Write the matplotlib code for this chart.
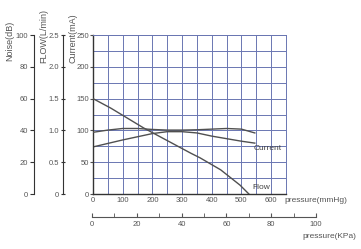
import numpy as np
import matplotlib
matplotlib.use('Agg')
import matplotlib.pyplot as plt

plt.rcParams['font.family'] = ['Liberation Sans', 'DejaVu Sans']

# veriler (okunan degerler)
basinc_akim = [0, 100, 200, 250, 300, 350, 400, 450, 500, 545]
akim = [74, 85, 95, 98, 98, 96, 91, 87, 83, 80]

basinc_gurultu = [0, 50, 100, 150, 200, 250, 300, 350, 400, 450, 500, 545]
gurultu = [38.8, 40.2, 41.2, 41.2, 40.6, 40.2, 40.2, 40.4, 40.8, 41.2, 40.8, 38.4]

basinc_debi = [0, 60, 170, 250, 330, 360, 430, 495, 525]
debi = [1.5, 1.35, 1.04, 0.84, 0.64, 0.57, 0.38, 0.14, 0.0]

akim_ticks = [0, 50, 100, 150, 200, 250]
gurultu_ticks = [0, 20, 40, 60, 80, 100]
debi_ticks = [0, 0.5, 1.0, 1.5, 2.0, 2.5]
mmhg_ticks = [0, 100, 200, 300, 400, 500, 600]
kpa_ticks = [0, 20, 40, 60, 80, 100]

W, H = 361, 249
def fx(px):
    return px / W
def fy(py):
    return 1 - py / H

izgara = '#6a76b2'
yazi = '#555555'
cizgi = '#505050'
ts = 5.5

fig = plt.figure(figsize=(W / 100, H / 100), dpi=100)

ax = fig.add_axes([fx(93), fy(194), (286 - 93) / W, (194 - 35) / H])
ax.set_xlim(0, 650)
ax.set_ylim(0, 250)
ax.set_xticks(mmhg_ticks)
ax.set_xticks(np.arange(0, 651, 50), minor=True)
ax.set_yticks(akim_ticks)
ax.set_yticks(np.arange(0, 251, 25), minor=True)
ax.grid(which='both', color=izgara, linewidth=0.7)
ax.tick_params(which='both', length=0, labelsize=ts, labelcolor=yazi, pad=2)
ax.tick_params(axis='y', which='major', length=2, direction='out', pad=1, color=cizgi)
for s in ['top', 'right']:
    ax.spines[s].set_color(izgara)
    ax.spines[s].set_linewidth(0.7)
for s in ['left', 'bottom']:
    ax.spines[s].set_color('#333333')
    ax.spines[s].set_linewidth(1.0)

ax.plot(basinc_akim, akim, color=cizgi, lw=1)

axn = ax.twinx()
axn.set_ylim(0, 100)
axn.axis('off')
axn.plot(basinc_gurultu, gurultu, color=cizgi, lw=1)

axf = ax.twinx()
axf.set_ylim(0, 2.5)
axf.axis('off')
axf.plot(basinc_debi, debi, color=cizgi, lw=1)

ax.text(540, 77, 'Current', fontsize=6, color='#444444', va='top', ha='left')
ax.text(538, 5, 'Flow', fontsize=6, color='#444444', va='bottom', ha='left')

# sol eksenler
def sol_eksen(px, ust, ticks, fmt, yon):
    a = fig.add_axes([fx(px), fy(194), 0.001, (194 - 35) / H])
    a.set_facecolor('none')
    a.set_ylim(0, ust)
    a.set_yticks(ticks)
    a.set_yticklabels([fmt(t) for t in ticks])
    a.set_xticks([])
    for s in ['top', 'right', 'bottom']:
        a.spines[s].set_visible(False)
    a.spines['left'].set_color('#333333')
    a.tick_params(axis='y', length=3, direction=yon, labelsize=ts,
                  labelcolor=yazi, pad=1.5, color='#333333')
    return a

sol_eksen(34, 100, gurultu_ticks, lambda t: f'{t:g}', 'out')
sol_eksen(63, 2.5, debi_ticks, lambda t: f'{t:.1f}' if t else '0', 'inout')

fig.text(fx(10), fy(61), 'Noise(dB)', rotation=90, fontsize=6.5, color=yazi,
         ha='center', va='bottom')
fig.text(fx(44), fy(63), 'FLOW(L/min)', rotation=90, fontsize=6.5, color=yazi,
         ha='center', va='bottom')
fig.text(fx(73), fy(63), 'Current(mA)', rotation=90, fontsize=6.5, color=yazi,
         ha='center', va='bottom')

fig.text(fx(284), fy(200), 'pressure(mmHg)', fontsize=6, color=yazi,
         ha='left', va='center')

# KPa ekseni
ak = fig.add_axes([fx(92), fy(217), (316 - 92) / W, 0.001])
ak.set_facecolor('none')
ak.set_xlim(0, 100)
ak.set_xticks(kpa_ticks)
ak.set_xticks(np.arange(0, 101, 10), minor=True)
ak.set_yticks([])
for s in ['top', 'right', 'left']:
    ak.spines[s].set_visible(False)
ak.spines['bottom'].set_color('#555555')
ak.tick_params(axis='x', which='both', length=3, direction='in',
               labelsize=ts, labelcolor=yazi, pad=3, color='#555555')
fig.text(fx(356), fy(236), 'pressure(KPa)', fontsize=6, color=yazi,
         ha='right', va='center')

fig.savefig('out.png', dpi=100)
plt.close()
